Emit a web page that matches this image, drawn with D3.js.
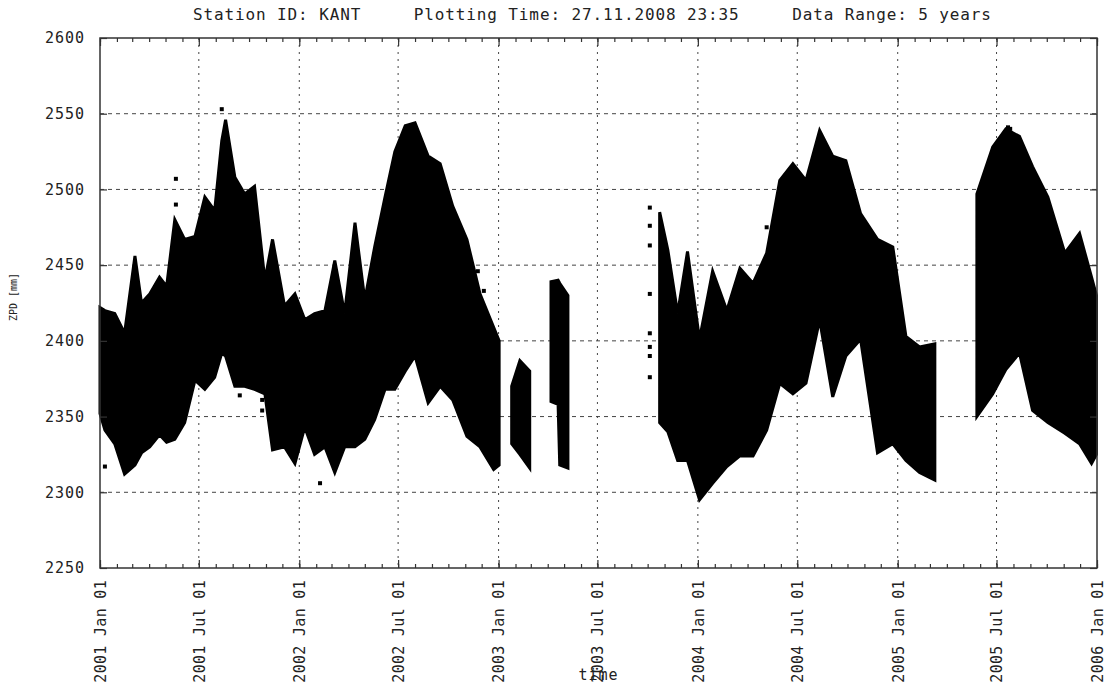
<!DOCTYPE html>
<html lang="en">
<head>
  <meta charset="UTF-8" />
  <title>ZPD KANT</title>
  <style>
    body {
      margin: 0;
      background: white;
    }
    svg text {
      font-family: "DejaVu Sans Mono", monospace;
      fill: #222;
    }
    .axis path { display: none; }
    .axis line { stroke: #333; stroke-width: 1.2px; }
  </style>
</head>
<body>
  <svg width="1111" height="684"></svg>

  <script src="https://d3js.org/d3.v7.min.js"></script>
  <script>
    // envelope of the ZPD point cloud (top / bottom of the dots), null = data gap
    const zpdDates = [
      "2001-01-01", "2001-01-10", "2001-01-28", "2001-02-15", "2001-03-06", "2001-03-18",
      "2001-04-02", "2001-04-20", "2001-05-03", "2001-05-18", "2001-06-05", "2001-06-24",
      "2001-07-12", "2001-07-30", "2001-08-12", "2001-08-19", "2001-09-05", "2001-09-23",
      "2001-10-11", "2001-10-30", "2001-11-13", "2001-12-05", "2001-12-24", "2002-01-11",
      "2002-01-29", "2002-02-17", "2002-03-07", "2002-03-25", "2002-04-13", "2002-05-01",
      "2002-05-19", "2002-06-07", "2002-06-25", "2002-07-14", "2002-08-01", "2002-08-25",
      "2002-09-16", "2002-10-09", "2002-11-04", "2002-11-28", "2002-12-23", "2003-01-02",
      "2003-01-08",
      "2003-01-25", "2003-02-09", "2003-02-27",
      "2003-03-15",
      "2003-04-07", "2003-04-20", "2003-04-23", "2003-05-08",
      "2003-06-01",
      "2003-10-23", "2003-11-07", "2003-11-25", "2003-12-13", "2004-01-04", "2004-01-28",
      "2004-02-23", "2004-03-18", "2004-04-11", "2004-05-06", "2004-05-30", "2004-06-23",
      "2004-07-17", "2004-08-11", "2004-09-04", "2004-09-28", "2004-10-25", "2004-11-25",
      "2004-12-23", "2005-01-16", "2005-02-10", "2005-03-10",
      "2005-04-01",
      "2005-05-26", "2005-06-24", "2005-07-18", "2005-08-12", "2005-09-05", "2005-10-03",
      "2005-11-03", "2005-11-30", "2005-12-22", "2005-12-31"
    ];
    const zpdHigh = [
      2422, 2420, 2418, 2405, 2456, 2425,
      2431, 2442, 2436, 2480, 2467, 2469,
      2495, 2486, 2532, 2546, 2508, 2497,
      2502, 2440, 2467, 2423, 2431, 2414,
      2418, 2420, 2453, 2418, 2478, 2427,
      2462, 2495, 2525, 2542, 2544, 2522,
      2517, 2489, 2467, 2431, 2409, 2400,
      null,
      2370, 2387, 2380,
      null,
      2439, 2440, 2438, 2430,
      null,
      2485, 2460, 2418, 2459, 2401, 2446,
      2420, 2448, 2438, 2458, 2506, 2517,
      2506, 2539, 2522, 2519, 2484, 2467,
      2462, 2403, 2396, 2398,
      null,
      2497, 2528, 2540, 2535, 2515, 2495,
      2458, 2471, 2442, 2430
    ];
    const zpdLow = [
      2352, 2341, 2332, 2312, 2318, 2326,
      2330, 2338, 2333, 2335, 2346, 2374,
      2368, 2376, 2392, 2390, 2370, 2370,
      2368, 2365, 2328, 2330, 2319, 2343,
      2325, 2330, 2313, 2330, 2330, 2335,
      2348, 2368, 2368, 2380, 2390, 2359,
      2370, 2361, 2337, 2330, 2315, 2318,
      null,
      2332, 2325, 2316,
      null,
      2360, 2358, 2318, 2316,
      null,
      2346, 2340, 2321, 2321, 2295, 2306,
      2317, 2324, 2324, 2341, 2372, 2365,
      2372, 2414, 2363, 2390, 2401, 2326,
      2332, 2321, 2313, 2308,
      null,
      2350, 2365, 2381, 2392, 2354, 2346,
      2339, 2332, 2319, 2325
    ];

    // isolated dots outside the main cloud
    const outlierDates = [
      "2001-01-10", "2001-05-20", "2001-05-20", "2001-08-12", "2001-09-14", "2001-10-25",
      "2001-10-25", "2002-02-08", "2002-11-24", "2002-12-05",
      "2003-10-05", "2003-10-05", "2003-10-05", "2003-10-05", "2003-10-05", "2003-10-05",
      "2003-10-05", "2003-10-05", "2004-05-06", "2005-07-22", "2005-07-26", "2005-09-08"
    ];
    const outlierValues = [
      2317, 2507, 2490, 2553, 2364, 2361,
      2354, 2306, 2446, 2433,
      2488, 2476, 2463, 2431, 2405, 2396,
      2390, 2376, 2475, 2541, 2540, 2355
    ];

    const yTicks = [2250, 2300, 2350, 2400, 2450, 2500, 2550, 2600];
    const titleText = "Station ID: KANT     Plotting Time: 27.11.2008 23:35     Data Range: 5 years";

    const plotLeft = 100, plotRight = 1097, plotTop = 38, plotBottom = 568;
    const parse = d3.utcParse("%Y-%m-%d");

    const svg = d3.select("svg");

    const x = d3.scaleUtc()
      .domain([parse("2001-01-01"), parse("2006-01-01")])
      .range([plotLeft, plotRight]);

    const y = d3.scaleLinear()
      .domain([2250, 2600])
      .range([plotBottom, plotTop]);

    const majorDates = d3.utcMonth.every(6).range(parse("2001-01-01"), parse("2006-01-02"));
    const minorDates = d3.utcMonth.range(parse("2001-01-01"), parse("2006-01-02"));

    // grid
    svg.append("g")
      .selectAll("line")
      .data(yTicks.slice(1, -1))
      .join("line")
        .attr("x1", plotLeft).attr("x2", plotRight)
        .attr("y1", d => y(d)).attr("y2", d => y(d))
        .attr("stroke", "#444")
        .attr("stroke-dasharray", "4,4");

    svg.append("g")
      .selectAll("line")
      .data(majorDates.slice(1, -1))
      .join("line")
        .attr("x1", d => x(d)).attr("x2", d => x(d))
        .attr("y1", plotTop).attr("y2", plotBottom)
        .attr("stroke", "#444")
        .attr("stroke-dasharray", "2,5");

    // data cloud
    const rows = zpdDates.map((d, i) => ({ date: parse(d), high: zpdHigh[i], low: zpdLow[i] }));

    const area = d3.area()
      .defined(d => d.high != null)
      .x(d => x(d.date))
      .y0(d => y(d.low))
      .y1(d => y(d.high));

    svg.append("path")
      .datum(rows)
      .attr("d", area)
      .attr("fill", "#000")
      .attr("stroke", "#000")
      .attr("stroke-width", 3)
      .attr("stroke-linejoin", "miter");

    svg.append("g")
      .selectAll("rect")
      .data(outlierDates.map((d, i) => ({ date: parse(d), value: outlierValues[i] })))
      .join("rect")
        .attr("x", d => x(d.date) - 2)
        .attr("y", d => y(d.value) - 2)
        .attr("width", 4)
        .attr("height", 4)
        .attr("fill", "#000");

    // axes (ticks point inwards)
    svg.append("g")
      .attr("class", "axis")
      .attr("transform", `translate(0,${plotBottom})`)
      .call(d3.axisBottom(x).tickValues(minorDates).tickSize(-4).tickFormat(""));

    const xAxis = svg.append("g")
      .attr("class", "axis")
      .attr("transform", `translate(0,${plotBottom})`)
      .call(d3.axisBottom(x).tickValues(majorDates).tickSize(-8).tickFormat(d3.utcFormat("%Y %b %d")));

    xAxis.selectAll("text")
      .attr("transform", "rotate(-90)")
      .attr("x", -12)
      .attr("y", 0)
      .attr("dy", "0.36em")
      .attr("text-anchor", "end")
      .attr("fill", "#222")
      .style("font-size", "15px")
      .style("letter-spacing", "0.3px");

    svg.append("g")
      .attr("class", "axis")
      .attr("transform", `translate(0,${plotTop})`)
      .call(d3.axisTop(x).tickValues(minorDates).tickSize(-4).tickFormat(""));

    svg.append("g")
      .attr("class", "axis")
      .attr("transform", `translate(0,${plotTop})`)
      .call(d3.axisTop(x).tickValues(majorDates).tickSize(-8).tickFormat(""));

    const yAxis = svg.append("g")
      .attr("class", "axis")
      .attr("transform", `translate(${plotLeft},0)`)
      .call(d3.axisLeft(y).tickValues(yTicks).tickSize(-7).tickPadding(15).tickFormat(d3.format("d")));

    yAxis.selectAll("text")
      .attr("fill", "#222")
      .style("font-size", "15px")
      .style("letter-spacing", "1px");

    svg.append("g")
      .attr("class", "axis")
      .attr("transform", `translate(${plotRight},0)`)
      .call(d3.axisRight(y).tickValues(yTicks).tickSize(-7).tickFormat(""));

    svg.append("rect")
      .attr("x", plotLeft)
      .attr("y", plotTop)
      .attr("width", plotRight - plotLeft)
      .attr("height", plotBottom - plotTop)
      .attr("fill", "none")
      .attr("stroke", "#333")
      .attr("stroke-width", 1.5);

    // titles
    svg.append("text")
      .attr("x", 193)
      .attr("y", 20)
      .attr("textLength", 798)
      .attr("lengthAdjust", "spacing")
      .style("white-space", "pre")
      .style("font-size", "16px")
      .text(titleText);

    svg.append("text")
      .attr("x", (plotLeft + plotRight) / 2)
      .attr("y", 680)
      .attr("text-anchor", "middle")
      .style("font-size", "15px")
      .style("letter-spacing", "1px")
      .text("time");

    svg.append("text")
      .attr("transform", "translate(17,297) rotate(-90)")
      .attr("text-anchor", "middle")
      .style("font-size", "10px")
      .text("ZPD [mm]");
  </script>
</body>
</html>
